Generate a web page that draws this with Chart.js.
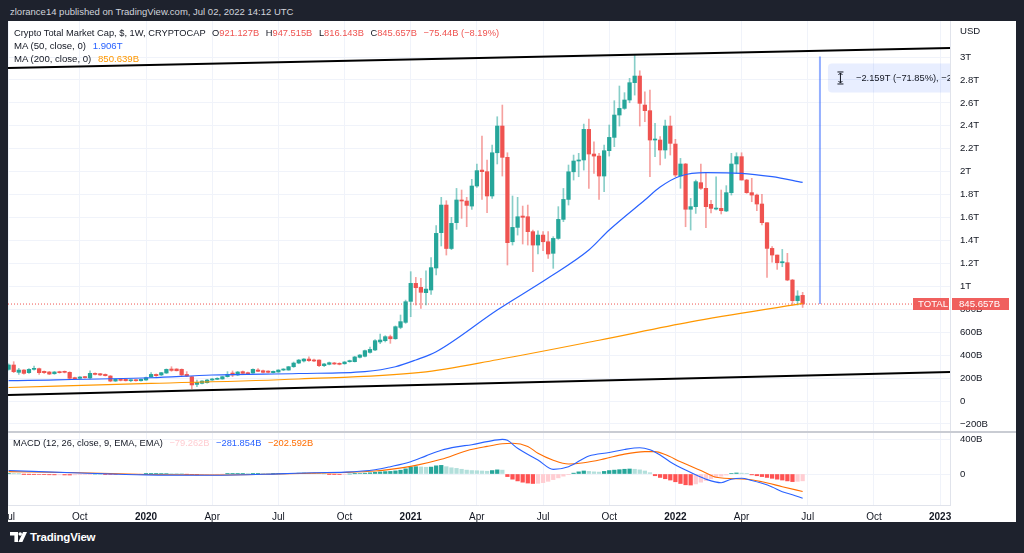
<!DOCTYPE html>
<html>
<head>
<meta charset="utf-8">
<script src="https://cdn.jsdelivr.net/npm/chart.js@4.4.1/dist/chart.umd.min.js"></script>
<style>
  html, body { margin: 0; padding: 0; width: 1024px; height: 553px; overflow: hidden;
               background: #1e222d; font-family: "Liberation Sans", Arial, sans-serif; }
  #frame  { position: absolute; left: 8px; top: 21px; width: 1008px; height: 501px; background: #fff; }
  #byline { position: absolute; left: 10px; top: 6px; font-size: 9.5px; line-height: 12px; color: #d1d4dc; }
  canvas  { position: absolute; left: 8px; }
  #main   { top: 21px; }
  #macd   { top: 432px; }
  #sep    { position: absolute; left: 8px; top: 431px; width: 1008px; height: 2px; background: #c9ccd3; }
  .leg    { position: absolute; left: 14px; font-size: 9.6px; line-height: 12px; color: #131722; white-space: nowrap; }
  .leg b  { font-weight: normal; margin-left: 4px; }
  .red    { color: #ef5350; }
  #logo   { position: absolute; left: 10px; top: 531px; color: #fff; font-size: 11.5px; font-weight: bold;
            display: flex; align-items: center; gap: 3px; letter-spacing: -0.2px; }
</style>
</head>
<body>
<div id="byline">zlorance14 published on TradingView.com, Jul 02, 2022 14:12 UTC</div>
<div id="frame"></div>
<canvas id="main" width="1008" height="411"></canvas>
<canvas id="macd" width="1008" height="90"></canvas>
<div id="sep"></div>

<div class="leg" style="top:27px;font-size:9.3px">Crypto Total Market Cap, $, 1W, CRYPTOCAP
  <b>O<span class="red">921.127B</span></b>
  <b>H<span class="red">947.515B</span></b>
  <b>L<span class="red">816.143B</span></b>
  <b>C<span class="red">845.657B</span></b>
  <b class="red">−75.44B (−8.19%)</b></div>
<div class="leg" style="top:40px">MA (50, close, 0) <b style="color:#2962ff">1.906T</b></div>
<div class="leg" style="top:53px">MA (200, close, 0) <b style="color:#ff9800">850.639B</b></div>
<div class="leg" style="top:437px;left:13px;font-size:9.3px">MACD (12, 26, close, 9, EMA, EMA)
  <b style="color:#ffcdd2">−79.262B</b> <b style="color:#2962ff">−281.854B</b> <b style="color:#ff6d00">−202.592B</b></div>

<div id="logo">
  <svg width="17" height="10" viewBox="0 0 17 10"><path d="M0 0h8v10h-3.6v-6.4h-4.4z" fill="#fff"/>
    <circle cx="10.2" cy="2" r="1.8" fill="#fff"/><path d="M13 0h4l-4.6 10h-4z" fill="#fff"/></svg>
  <span>TradingView</span>
</div>

<script>
// weekly candles, Jul 1 2019 .. Jun 27 2022, values in billions USD
const opens = [
  276,314,250,270,247,276,282,259,253,238,256,259,250,203,198,212,201,241,238,232,
  218,174,192,189,177,183,177,183,209,232,227,244,279,279,276,232,212,145,154,160,
  183,189,192,212,244,227,256,247,244,270,264,261,247,253,270,270,299,331,349,366,
  357,357,308,320,328,328,325,343,343,381,390,424,445,515,526,561,543,642,686,869,
  1026,991,945,968,1160,1468,1709,1330,1555,1753,1744,1700,1875,2014,2000,1788,2165,2398,2125,1389,
  1514,1613,1607,1477,1360,1447,1389,1288,1418,1584,1758,1999,2093,2102,2369,2154,2136,1962,2183,2299,
  2494,2552,2625,2776,2834,2581,2532,2276,2276,2189,2398,2241,1962,2067,1672,1695,1904,1855,1715,1674,
  1680,1657,1817,2067,2131,1927,1817,1796,1718,1555,1331,1273,1206,1206,1055,875,921.127
];
const highs = [
  325,343,285,275,282,305,288,262,258,258,260,262,255,208,213,215,264,246,241,236,
  222,192,195,192,186,187,192,209,247,236,250,280,299,282,280,256,216,183,178,188,
  197,203,215,256,262,258,262,253,280,282,270,264,262,273,282,302,340,363,370,386,
  365,360,328,340,337,334,345,357,390,405,445,470,535,584,570,575,655,750,880,1128,
  1078,1070,1136,1250,1530,1776,1747,1602,1854,1840,1776,1933,2067,2311,2102,2232,2479,2581,2165,1788,
  1776,1700,1709,1491,1485,1477,1477,1433,1695,1854,2058,2145,2160,2415,2459,2261,2160,2232,2407,2619,
  2747,2689,2814,3017,2880,2697,2712,2421,2305,2450,2485,2282,2116,2072,1767,1927,2067,1991,1750,1956,
  1840,1878,2160,2165,2165,1933,1942,1805,1802,1555,1346,1273,1322,1288,1061,962,947.515
];
const lows = [
  268,247,232,235,240,270,232,240,230,233,243,245,194,190,192,200,192,228,222,218,
  168,170,175,174,168,174,174,180,205,215,222,240,259,262,222,212,108,125,150,156,
  180,186,190,208,212,222,238,232,240,255,244,245,244,250,265,268,293,325,340,345,
  343,299,300,315,318,315,320,338,340,375,385,418,440,500,515,503,538,630,677,735,
  837,808,837,930,1100,1352,1273,1320,1497,1593,1520,1671,1863,1758,1642,1767,2067,1962,1186,1360,
  1447,1369,1360,1128,1282,1311,1244,1157,1410,1564,1709,1927,1956,2014,1854,1985,1758,1825,2136,2218,
  2398,2543,2601,2668,2398,2436,1956,2131,2058,2116,2145,1956,1855,1520,1491,1636,1846,1511,1640,1666,
  1631,1651,1796,1985,1927,1811,1738,1660,1535,1078,1210,1148,1171,1049,837,837,816.143
];
const closes = [
  314,256,270,241,276,285,247,247,235,253,247,250,198,195,209,204,241,232,227,221,
  174,189,180,177,183,177,189,203,232,221,247,276,267,264,227,218,140,163,174,183,
  192,198,212,232,227,253,241,235,276,259,250,250,259,270,276,299,331,357,366,352,
  349,308,323,334,323,320,340,352,384,401,439,450,526,532,561,543,648,692,866,1026,
  988,948,976,1163,1462,1709,1330,1549,1753,1744,1706,1875,2009,2000,1788,2165,2398,2125,1381,1514,
  1607,1602,1477,1360,1447,1389,1282,1418,1584,1758,1999,2093,2102,2369,2154,2136,1962,2183,2299,2494,
  2552,2625,2776,2834,2596,2532,2276,2282,2189,2398,2247,1971,2067,1672,1695,1913,1855,1695,1680,1680,
  1660,1817,2067,2131,1927,1817,1796,1718,1555,1331,1273,1206,1215,1055,875,916,845.657
];

// moving averages (week index -> value)
const ma50Weeks  = [0, 28, 40, 57, 70, 76, 80, 84, 96, 106, 114, 118, 125, 128, 132, 137, 144, 150, 156];
const ma50Vals   = [177, 203, 227, 240, 257, 299, 358, 430, 794, 1073, 1317, 1491, 1753, 1866, 1962, 1991, 1986, 1956, 1906];
const ma200Weeks = [0, 28, 57, 81, 96, 116, 134, 156];
const ma200Vals  = [118, 153, 192, 249, 360, 530, 690, 850.639];

// MACD pane
const macdWeeks = [0,14,27,40,53,60,66,72,75,79,82,85,88,91,94,97,98,100,104,107,110,114,118,121,124,126,128,130,133,137,140,142,144,146,148,150,152,154,156];
const macdVals  = [40,12,-10,-14,2,15,22,50,85,143,210,275,315,340,375,402,390,298,162,54,85,209,250,285,305,280,220,140,46,-60,-101,-60,-50,-75,-108,-150,-205,-240,-281.854];
const signalWeeks = [0,14,27,40,53,60,66,72,75,80,85,90,94,97,99,102,104,107,110,113,117,121,125,127,129,132,136,139,145,148,152,156];
const signalVals  = [27,15,-5,-12,0,10,18,35,54,100,170,270,320,350,356,320,240,160,116,130,175,230,259,260,225,143,40,-38,-61,-90,-147,-202.592];
const macdHist = [
  3,2,1,-1,-2,-3,-6,-8,-9,-10,-10,-11,-12,-10,-8,-5,-2,0,1,-2,
  -5,-6,-5,-4,-3,-2,-1,1,3,4,5,6,5,3,1,-2,-8,-10,-9,-7,
  -5,-3,-1,1,3,4,4,3,3,3,2,1,1,2,3,5,8,10,11,10,
  8,4,1,-1,-2,-3,-2,0,3,6,10,14,20,24,28,30,36,44,60,80,
  85,82,78,80,95,100,85,72,65,55,45,40,38,35,32,40,48,45,-30,-60,
  -80,-95,-105,-110,-108,-100,-85,-65,-45,-25,-8,10,25,35,30,25,22,30,40,45,
  50,55,58,55,48,35,15,-20,-40,-55,-70,-90,-110,-125,-128,-115,-95,-75,-55,-40,
  -25,-12,5,12,10,4,-10,-20,-30,-40,-50,-60,-70,-80,-88,-85,-79.262
];

// trend lines, measure tool, last price
const trendUpper = [2904, 3078];
const trendLower = [52, 253];
const measureTop = 3004.66;
const lastClose  = 845.657;
const measureWeek = 159.4;

const tickWeeks  = [0, 14, 27, 40, 53, 66, 79, 92, 105, 118, 131, 144, 157, 170, 183];
const tickLabels = ['Jul','Oct','2020','Apr','Jul','Oct','2021','Apr','Jul','Oct','2022','Apr','Jul','Oct','2023'];
const priceTicks = [-200,0,200,400,600,800,1000,1200,1400,1600,1800,2000,2200,2400,2600,2800,3000];
const macdTicks  = [0, 400];

const FONT  = '"Liberation Sans", Arial, sans-serif';
const TEXT  = '#131722';
const GRID  = '#f0f3fa';
const UP    = '#26a69a', DOWN = '#ef5350';
const X_MIN = -0.118, X_MAX = 184.95;

const fmtPrice = v => {
    if (v === 0) return '0';
    const a = Math.abs(v);
    const s = a >= 1000 ? (+(a / 1000).toFixed(1)) + 'T' : a + 'B';
    return (v < 0 ? '−' : '') + s;
};
const pts = (xs, ys) => xs.map((x, i) => ({ x, y: ys[i] }));

const weeks  = opens.map((_, i) => i);
const isUp   = weeks.map(i => closes[i] >= opens[i]);

const xScale = (showLabels) => ({
    type: 'linear', min: X_MIN, max: X_MAX, offset: false,
    grid:   { color: GRID, offset: false, drawTicks: false },
    border: { display: showLabels, color: '#e0e3eb' },
    ticks:  {
        display: showLabels, autoSkip: false, maxRotation: 0, padding: 6, color: TEXT,
        font: c => ({ family: FONT, size: 10, weight: /^\d{4}$/.test(tickLabels[c.index] || '') ? 'bold' : 'normal' }),
        callback: (v, i) => tickLabels[i]
    },
    afterBuildTicks: s => { s.ticks = tickWeeks.map(v => ({ value: v })); },
    afterFit: s => { s.height = showLabels ? 17 : 0; s.paddingLeft = 0; s.paddingRight = 0; }
});

const yScale = (min, max, ticks, fmt) => ({
    position: 'right', min, max,
    grid:   { color: GRID, drawTicks: false },
    border: { display: true, color: '#e0e3eb' },
    ticks:  { autoSkip: false, padding: 10, color: TEXT, font: { family: FONT, size: 9.6 }, callback: fmt },
    afterBuildTicks: s => { s.ticks = ticks.map(v => ({ value: v })); },
    afterFit: s => { s.width = 66; s.paddingTop = 0; s.paddingBottom = 0; }
});

// red labels on the price axis + measure box + USD caption
const overlay = {
    id: 'overlay',
    afterDraw(chart) {
        const { ctx, chartArea: a, scales: { x, y } } = chart;
        const py = Math.round(y.getPixelForValue(lastClose));
        ctx.save();
        ctx.font = '9.6px ' + FONT;
        ctx.textBaseline = 'middle';
        ctx.fillStyle = TEXT;
        ctx.fillText('USD', a.right + 10, 10);

        ctx.fillStyle = 'rgba(239,83,80,0.92)';
        ctx.fillRect(a.right - 37, py - 6, 36, 12);
        ctx.fillRect(a.right + 2, py - 6, 57, 12);
        ctx.fillStyle = '#fff';
        ctx.fillText('TOTAL', a.right - 32, py + 0.5);
        ctx.fillText('845.657B', a.right + 9, py + 0.5);

        // price range box, clipped at the price axis
        ctx.beginPath();
        ctx.rect(a.left, a.top, a.right - a.left, a.bottom - a.top);
        ctx.clip();
        const mx = x.getPixelForValue(measureWeek), my = y.getPixelForValue(measureTop);
        ctx.fillStyle = 'rgba(41,98,255,0.11)';
        ctx.beginPath();
        ctx.roundRect(mx + 8, my + 7, 200, 29, 4);
        ctx.fill();
        ctx.strokeStyle = TEXT; ctx.lineWidth = 1;
        const ix = mx + 20.5, iy = my + 21.5;
        ctx.beginPath();
        ctx.moveTo(ix - 3, iy - 6); ctx.lineTo(ix + 3, iy - 6);
        ctx.moveTo(ix - 3, iy + 6); ctx.lineTo(ix + 3, iy + 6);
        ctx.moveTo(ix, iy - 5); ctx.lineTo(ix, iy + 5);
        ctx.moveTo(ix - 2, iy - 3); ctx.lineTo(ix, iy - 5); ctx.lineTo(ix + 2, iy - 3);
        ctx.moveTo(ix - 2, iy + 3); ctx.lineTo(ix, iy + 5); ctx.lineTo(ix + 2, iy + 3);
        ctx.stroke();
        ctx.fillStyle = TEXT;
        ctx.font = '9.3px ' + FONT;
        ctx.fillText('−2.159T (−71.85%), −215,907,283', mx + 36, iy);
        ctx.restore();
    }
};

new Chart(document.getElementById('main'), {
    type: 'bar',
    data: {
        datasets: [
            { type: 'line', data: [{ x: measureWeek, y: measureTop }, { x: measureWeek, y: lastClose }],
              borderColor: 'rgba(41,98,255,0.5)', borderWidth: 2, pointRadius: 0, order: 0 },
            { type: 'line', data: pts([X_MIN, X_MAX], trendUpper), borderColor: '#000', borderWidth: 2, pointRadius: 0, order: 1 },
            { type: 'line', data: pts([X_MIN, X_MAX], trendLower), borderColor: '#000', borderWidth: 2, pointRadius: 0, order: 1 },
            { type: 'line', data: pts(ma50Weeks, ma50Vals), borderColor: '#2962ff', borderWidth: 1.2,
              pointRadius: 0, cubicInterpolationMode: 'monotone', order: 2 },
            { type: 'line', data: pts(ma200Weeks, ma200Vals), borderColor: '#ff9800', borderWidth: 1.2,
              pointRadius: 0, cubicInterpolationMode: 'monotone', order: 2 },
            { type: 'line', data: pts([X_MIN, X_MAX], [lastClose, lastClose]), borderColor: DOWN,
              borderWidth: 1, borderDash: [1, 2], pointRadius: 0, order: 6 },
            { label: 'body', data: weeks.map(i => ({ x: i, y: [opens[i], closes[i]] })),
              backgroundColor: isUp.map(u => u ? UP : DOWN), borderWidth: 0,
              barThickness: 3.6, minBarLength: 1, grouped: false, order: 4 },
            { label: 'wick', data: weeks.map(i => ({ x: i, y: [lows[i], highs[i]] })),
              backgroundColor: isUp.map(u => u ? 'rgba(38,166,154,0.55)' : 'rgba(239,83,80,0.55)'),
              borderWidth: 0, barThickness: 1, grouped: false, order: 5 }
        ]
    },
    options: {
        responsive: false, animation: false,
        layout: { padding: 0 },
        plugins: { legend: { display: false }, tooltip: { enabled: false } },
        scales: { x: xScale(false), y: yScale(-270.3, 3314, priceTicks, v => fmtPrice(v)) }
    },
    plugins: [overlay]
});

new Chart(document.getElementById('macd'), {
    type: 'bar',
    data: {
        datasets: [
            { type: 'line', data: pts(macdWeeks, macdVals), borderColor: '#2962ff', borderWidth: 1.1,
              pointRadius: 0, cubicInterpolationMode: 'monotone', order: 1 },
            { type: 'line', data: pts(signalWeeks, signalVals), borderColor: '#ff6d00', borderWidth: 1.1,
              pointRadius: 0, cubicInterpolationMode: 'monotone', order: 2 },
            { data: weeks.map(i => ({ x: i, y: macdHist[i] })),
              backgroundColor: macdHist.map((h, i) => {
                  const p = i ? macdHist[i - 1] : h;
                  return h >= 0 ? (h >= p ? '#26a69a' : '#b2dfdb') : (h < p ? '#ff5252' : '#ffcdd2');
              }),
              barThickness: 3.6, grouped: false, order: 3 }
        ]
    },
    options: {
        responsive: false, animation: false,
        layout: { padding: { top: 1 } },
        plugins: { legend: { display: false }, tooltip: { enabled: false } },
        scales: { x: xScale(true), y: yScale(-359.4, 475.4, macdTicks, v => v === 0 ? '0' : v + 'B') }
    }
});
</script>
</body>
</html>
